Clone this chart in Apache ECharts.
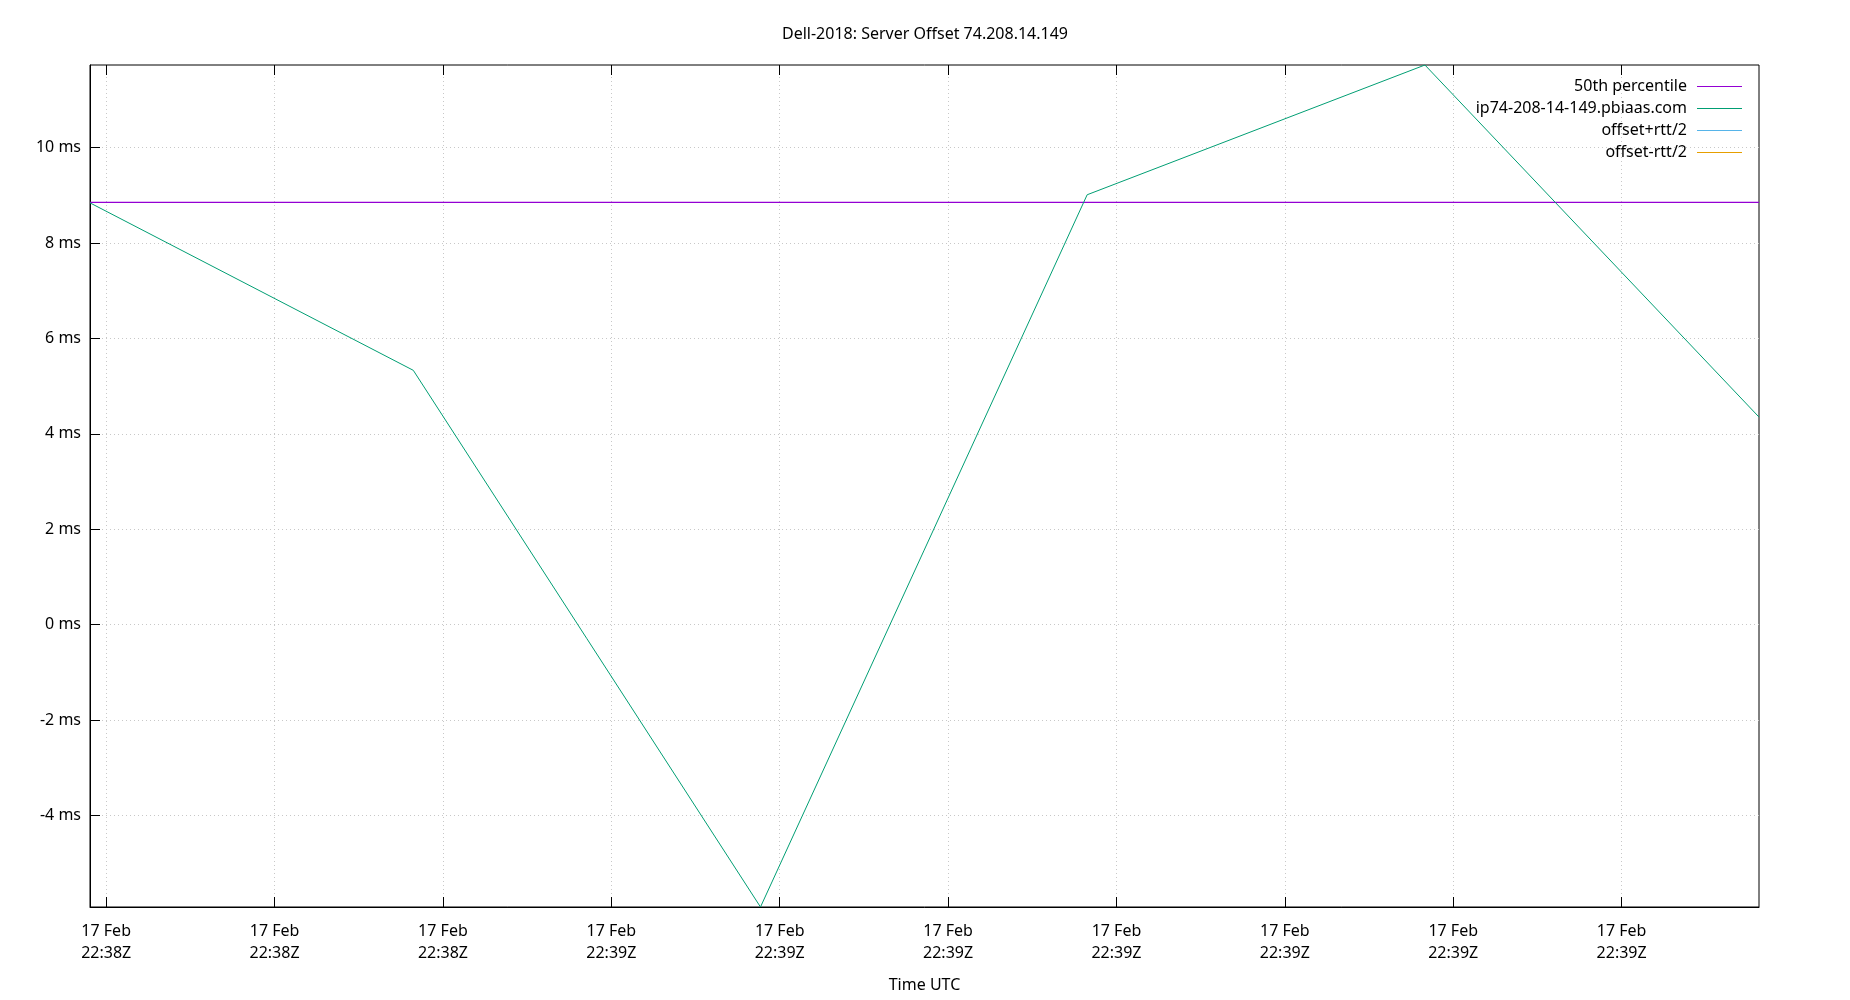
<!DOCTYPE html>
<html><head><meta charset="utf-8">
<script src="https://cdn.jsdelivr.net/npm/echarts@6/dist/echarts.min.js"></script>
<style>html,body{margin:0;padding:0;background:#fff}#c{width:1850px;height:1000px}</style>
</head><body><div id="c"></div>
<script>
const titleText = 'Dell-2018: Server Offset 74.208.14.149';
const xAxisName = 'Time UTC';
const seriesNames = ['50th percentile', 'ip74-208-14-149.pbiaas.com', 'offset+rtt/2', 'offset-rtt/2'];
const seriesColors = ['#9400d3', '#009e73', '#56b4e9', '#e69f00'];
const sampleTimes = ['2018-02-17T22:38:44.52Z', '2018-02-17T22:38:54.12Z', '2018-02-17T22:39:04.43Z',
                     '2018-02-17T22:39:14.13Z', '2018-02-17T22:39:24.16Z', '2018-02-17T22:39:34.08Z'];
const offsetMs = [8.84, 5.33, -5.92, 9.01, 11.73, 4.35];
const percentile50Ms = 8.85;
const offsetPlusRtt = [];
const offsetMinusRtt = [];
const xTickTimes = ['2018-02-17T22:38:45Z', '2018-02-17T22:38:50Z', '2018-02-17T22:38:55Z', '2018-02-17T22:39:00Z',
                    '2018-02-17T22:39:05Z', '2018-02-17T22:39:10Z', '2018-02-17T22:39:15Z', '2018-02-17T22:39:20Z',
                    '2018-02-17T22:39:25Z', '2018-02-17T22:39:30Z'];
const yTickValues = [-4, -2, 0, 2, 4, 6, 8, 10];
const monthNames = ['Jan','Feb','Mar','Apr','May','Jun','Jul','Aug','Sep','Oct','Nov','Dec'];

const tMs = sampleTimes.map(s => Date.parse(s));
const xTicks = xTickTimes.map(s => Date.parse(s));
const xMin = Math.min(...tMs), xMax = Math.max(...tMs);
const yMin = Math.min(...offsetMs), yMax = Math.max(...offsetMs);
const pad = n => String(n).padStart(2, '0');
const fmtTime = v => { const d = new Date(v); return d.getUTCDate() + ' ' + monthNames[d.getUTCMonth()] + '\n' + pad(d.getUTCHours()) + ':' + pad(d.getUTCMinutes()) + 'Z'; };

const FONT = 'Noto Sans';
const gridLine = { show: true, lineStyle: { color: '#c8c8c8', width: 1, type: [1, 3] } };

const chart = echarts.init(document.getElementById('c'), null, { renderer: 'canvas' });
chart.setOption({
  backgroundColor: '#ffffff',
  animation: false,
  textStyle: { fontFamily: FONT },
  title: { text: titleText, left: 'center', top: 21, textStyle: { fontFamily: FONT, fontSize: 16, fontWeight: 'normal', color: '#000' } },
  legend: {
    orient: 'vertical', right: 108, top: 78.5, padding: 0, align: 'right',
    itemWidth: 45, itemHeight: 14, itemGap: 6,
    textStyle: { fontFamily: FONT, fontSize: 16, lineHeight: 16, color: '#000', padding: [0, 5, 0, 0] },
    data: seriesNames.map(n => ({ name: n, icon: 'path://M0,0H45V1.2H0Z' })),
    selectedMode: false
  },
  grid: { left: 90, right: 91, top: 65, bottom: 93, show: true, borderColor: '#000', borderWidth: 1, backgroundColor: 'transparent' },
  xAxis: [{
    type: 'value', min: xMin, max: xMax, position: 'bottom',
    name: xAxisName, nameLocation: 'middle', nameGap: 70,
    nameTextStyle: { fontFamily: FONT, fontSize: 16, color: '#000' },
    axisLine: { show: true, onZero: false, lineStyle: { color: '#000', width: 1 } },
    axisTick: { show: true, inside: true, length: 10, customValues: xTicks, lineStyle: { color: '#000' } },
    axisLabel: { customValues: xTicks, formatter: fmtTime, fontFamily: FONT, fontSize: 16, color: '#000', lineHeight: 22, margin: 13 },
    splitLine: gridLine
  }, {
    type: 'value', min: xMin, max: xMax, position: 'top',
    axisLine: { show: false, onZero: false },
    axisTick: { show: true, inside: true, length: 10, customValues: xTicks, lineStyle: { color: '#000' } },
    axisLabel: { show: false, customValues: xTicks },
    splitLine: { show: false }
  }],
  yAxis: [{
    type: 'value', min: yMin, max: yMax,
    axisLine: { show: true, onZero: false, lineStyle: { color: '#000', width: 1 } },
    axisTick: { show: true, inside: true, length: 10, customValues: yTickValues, lineStyle: { color: '#000' } },
    axisLabel: { customValues: yTickValues, formatter: v => v + ' ms', fontFamily: FONT, fontSize: 16, color: '#000', margin: 9 },
    splitLine: gridLine
  }],
  series: [
    { name: seriesNames[0], type: 'line', symbol: 'none', color: seriesColors[0], lineStyle: { width: 1.2, color: seriesColors[0] },
      data: [[xMin, percentile50Ms], [xMax, percentile50Ms]] },
    { name: seriesNames[1], type: 'line', symbol: 'none', color: seriesColors[1], lineStyle: { width: 1, color: seriesColors[1] },
      data: tMs.map((t, i) => [t, offsetMs[i]]) },
    { name: seriesNames[2], type: 'line', symbol: 'none', color: seriesColors[2], lineStyle: { width: 1, color: seriesColors[2] },
      data: offsetPlusRtt },
    { name: seriesNames[3], type: 'line', symbol: 'none', color: seriesColors[3], lineStyle: { width: 1, color: seriesColors[3] },
      data: offsetMinusRtt }
  ]
});
</script></body></html>
